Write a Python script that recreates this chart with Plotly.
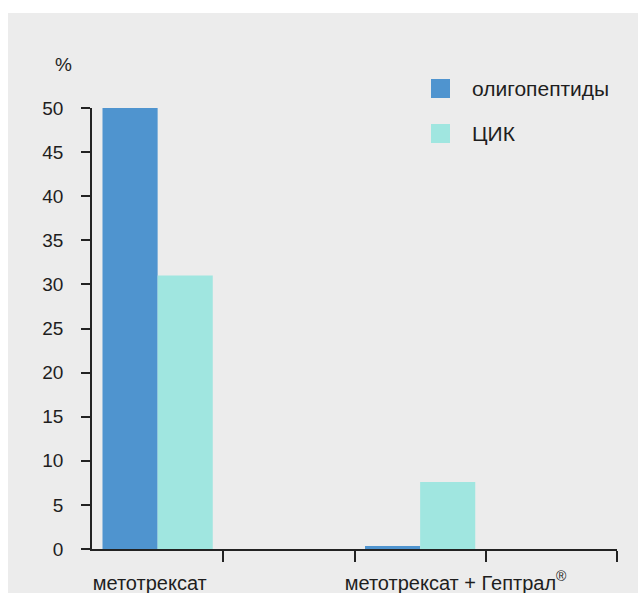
import plotly.graph_objects as go

# ---- data ----
categories = ["метотрексат", "метотрексат + Гептрал<sup>®</sup>"]
series_names = ["олигопептиды", "ЦИК"]
oligopeptides = [50, 0.35]
cik = [31, 7.6]
y_ticks = [0, 5, 10, 15, 20, 25, 30, 35, 40, 45, 50]

colors = ["#4f94cf", "#a0e6e0"]
W, H = 638, 593
L, R, T, B = 92, 617, 108, 549  # plot area in px
FONT = "Liberation Sans, Arial, sans-serif"
TXT = "#1e1e1e"


def px_x(p):
    return (p - L) / (R - L)


def px_y(p):
    return (B - p) / (B - T)


# each category occupies two slots on a linear axis of 4 slots
xpos = [2 * i + 0.5 for i in range(len(categories))]

fig = go.Figure()
fig.add_trace(go.Bar(x=xpos, y=oligopeptides, name=series_names[0],
                     marker=dict(color=colors[0], line=dict(width=0)),
                     width=0.42, offset=-0.42, showlegend=False))
fig.add_trace(go.Bar(x=xpos, y=cik, name=series_names[1],
                     marker=dict(color=colors[1], line=dict(width=0)),
                     width=0.42, offset=0, showlegend=False))

shapes = [dict(type="rect", xref="paper", yref="paper",
               x0=px_x(8), x1=px_x(W + 5), y0=px_y(13), y1=px_y(H + 5),
               fillcolor="#ececec", line=dict(width=0), layer="below")]
annotations = [dict(text="%", xref="paper", yref="paper", x=px_x(63.5), y=px_y(65),
                    xanchor="center", yanchor="middle", showarrow=False,
                    font=dict(family=FONT, size=19, color=TXT))]

# manual legend
leg_y = [88.5, 133.5]
for name, col, cy in zip(series_names, colors, leg_y):
    shapes.append(dict(type="rect", xref="paper", yref="paper",
                       x0=px_x(431), x1=px_x(450), y0=px_y(cy - 9.5), y1=px_y(cy + 9.5),
                       fillcolor=col, line=dict(width=0)))
    annotations.append(dict(text=name, xref="paper", yref="paper", x=px_x(470), y=px_y(cy),
                            xanchor="left", yanchor="middle", showarrow=False,
                            font=dict(family=FONT, size=21, color=TXT)))

fig.update_layout(
    width=W, height=H,
    margin=dict(l=L, r=W - R, t=T, b=H - B, pad=0),
    paper_bgcolor="white",
    plot_bgcolor="rgba(0,0,0,0)",
    barmode="overlay",
    shapes=shapes,
    annotations=annotations,
    font=dict(family=FONT, size=19, color=TXT),
    xaxis=dict(range=[0, 4], showgrid=False, zeroline=False, automargin=False,
               showline=True, linecolor="#222", linewidth=1.5,
               tickmode="array", tickvals=[0.44, 2.77], ticktext=categories,
               ticks="", ticklabelstandoff=15,
               tickfont=dict(family=FONT, size=20, color=TXT),
               minor=dict(tickmode="array", tickvals=[1, 2, 3, 4], ticks="outside",
                          ticklen=11, tickwidth=1.5, tickcolor="#222", showgrid=False)),
    yaxis=dict(range=[0, 50], showgrid=False, zeroline=False, automargin=False,
               showline=True, linecolor="#222", linewidth=1.5,
               tickmode="array", tickvals=y_ticks,
               ticks="outside", ticklen=9, tickwidth=1.5, tickcolor="#222",
               ticklabelstandoff=14,
               tickfont=dict(family=FONT, size=19, color=TXT)),
)

fig.write_html("out.html")
